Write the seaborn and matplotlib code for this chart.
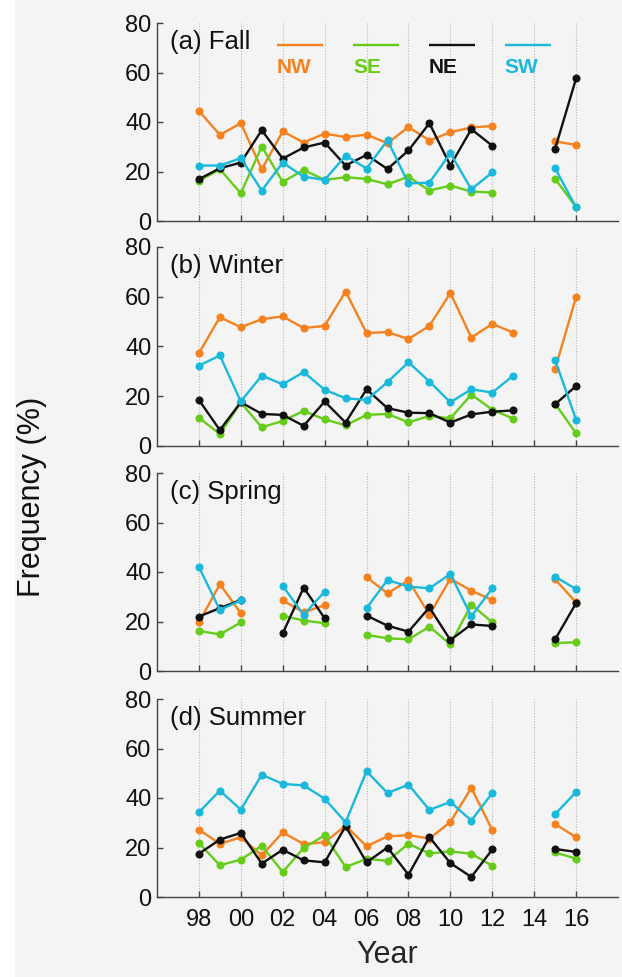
import numpy as np
import pandas as pd
import matplotlib
matplotlib.use("Agg")
import matplotlib.pyplot as plt
from matplotlib.patches import Rectangle
import seaborn as sns

nan = np.nan
years = list(range(1998, 2017))
directions = ["NW", "SE", "NE", "SW"]
seasons = ["(a) Fall", "(b) Winter", "(c) Spring", "(d) Summer"]
year_ticks = list(range(1998, 2017, 2))
year_tick_labels = ["98", "00", "02", "04", "06", "08", "10", "12", "14", "16"]
y_ticks = [0, 20, 40, 60, 80]

fall_nw = [44.5, 34.8, 39.5, 20.9, 36.2, 31.7, 35.3, 33.9, 34.9, 31.4, 38.0, 32.5, 35.9, 37.8, 38.4, nan, nan, 32.2, 30.7]
fall_se = [16.2, 20.9, 11.2, 30.1, 15.8, 20.6, 16.6, 17.7, 17.0, 14.8, 17.9, 12.3, 14.3, 11.9, 11.5, nan, nan, 17.0, 5.6]
fall_ne = [16.9, 21.3, 23.6, 36.7, 25.2, 29.7, 31.7, 22.4, 26.7, 21.0, 28.5, 39.5, 22.4, 37.1, 30.4, nan, nan, 29.2, 57.6]
fall_sw = [22.4, 22.4, 25.4, 12.3, 23.6, 17.9, 16.6, 26.4, 21.2, 32.6, 15.2, 15.5, 27.4, 12.8, 19.6, nan, nan, 21.3, 5.5]

winter_nw = [37.3, 51.8, 47.7, 51.0, 52.1, 47.4, 48.3, 62.1, 45.4, 45.8, 43.0, 48.3, 61.5, 43.6, 49.1, 45.6, nan, 31.0, 59.9]
winter_se = [11.4, 4.8, 17.5, 7.5, 10.1, 14.1, 10.7, 8.3, 12.5, 12.9, 9.5, 12.1, 11.1, 20.7, 14.6, 11.0, nan, 17.0, 5.1]
winter_ne = [18.5, 6.4, 17.6, 12.9, 12.5, 8.1, 17.9, 9.4, 22.8, 15.2, 13.4, 13.2, 9.4, 12.7, 13.8, 14.3, nan, 16.8, 24.1]
winter_sw = [32.3, 36.4, 17.9, 28.3, 24.8, 29.7, 22.6, 19.2, 18.5, 25.7, 33.7, 25.9, 17.6, 22.8, 21.5, 28.3, nan, 34.6, 10.5]

spring_nw = [19.6, 35.1, 23.3, nan, 28.5, 23.7, 26.6, nan, 37.9, 31.4, 36.6, 22.7, 37.3, 32.4, 28.7, nan, nan, 37.0, 27.7]
spring_se = [16.2, 14.8, 19.6, nan, 22.3, 20.4, 19.3, nan, 14.6, 13.2, 12.8, 17.9, 10.8, 26.8, 19.7, nan, nan, 11.3, 11.6]
spring_ne = [22.0, 25.4, 28.7, nan, 15.2, 33.7, 21.3, nan, 22.4, 18.3, 15.9, 25.7, 12.5, 18.8, 18.2, nan, nan, 12.8, 27.4]
spring_sw = [42.0, 24.7, 28.5, nan, 34.4, 22.7, 32.1, nan, 25.4, 36.8, 34.1, 33.4, 39.2, 22.1, 33.4, nan, nan, 38.1, 33.1]

summer_nw = [27.2, 21.5, 24.1, 16.8, 26.1, 21.4, 22.1, 28.8, 20.5, 24.5, 25.0, 23.6, 30.3, 44.1, 27.0, nan, nan, 29.5, 24.1]
summer_se = [21.8, 12.8, 15.1, 20.7, 10.1, 19.8, 24.9, 12.1, 15.4, 14.6, 21.5, 17.6, 18.4, 17.5, 12.6, nan, nan, 18.0, 15.5]
summer_ne = [17.5, 23.2, 25.9, 13.5, 19.1, 14.8, 14.0, 28.6, 14.0, 20.0, 9.0, 24.2, 13.7, 8.1, 19.2, nan, nan, 19.4, 18.2]
summer_sw = [34.2, 43.0, 35.3, 49.4, 45.7, 45.1, 39.7, 30.2, 50.8, 42.0, 45.4, 35.2, 38.4, 30.9, 42.0, nan, nan, 33.5, 42.4]

season_data = {
    "(a) Fall": [fall_nw, fall_se, fall_ne, fall_sw],
    "(b) Winter": [winter_nw, winter_se, winter_ne, winter_sw],
    "(c) Spring": [spring_nw, spring_se, spring_ne, spring_sw],
    "(d) Summer": [summer_nw, summer_se, summer_ne, summer_sw],
}

colors = {"NW": "#f5821f", "SE": "#66cc1a", "NE": "#111111", "SW": "#1ab9dc"}
BG = "#f4f4f4"

sns.set_style("ticks")
plt.rcParams["font.family"] = ["Liberation Sans", "DejaVu Sans"]
plt.rcParams["axes.linewidth"] = 1.0


def long_frame(series_list):
    rows = []
    for d, vals in zip(directions, series_list):
        seg = 0
        prev = None
        for y, v in zip(years, vals):
            if v is None or (isinstance(v, float) and np.isnan(v)):
                continue
            if prev is not None and y - prev > 1:
                seg += 1
            rows.append({"year": y, "freq": v, "dir": d, "seg": seg})
            prev = y
    return pd.DataFrame(rows)


fig = plt.figure(figsize=(6.22, 9.77), dpi=100, facecolor=BG)
W, H = 622.0, 977.0
fig.patches.append(Rectangle((0, 0), 15 / W, 1, transform=fig.transFigure,
                             facecolor="white", edgecolor="none", zorder=-10))

left_px, right_px = 157, 618
panel_px = [(23, 221), (247, 446), (473, 671), (699, 897)]

for i, season in enumerate(seasons):
    top, bot = panel_px[i]
    ax = fig.add_axes([left_px / W, 1 - bot / H, (right_px - left_px) / W, (bot - top) / H])
    ax.set_facecolor(BG)
    df = long_frame(season_data[season])
    sns.lineplot(data=df, x="year", y="freq", hue="dir", units="seg", estimator=None,
                 hue_order=directions, palette=colors, marker="o", markersize=5.8,
                 markeredgewidth=0, linewidth=1.7, legend=False, ax=ax, sort=True)
    ax.set_xlim(1996, 2018)
    ax.set_ylim(0, 80)
    ax.set_yticks(y_ticks)
    ax.set_yticklabels([str(v) for v in y_ticks], fontsize=17)
    ax.set_xticks(year_ticks)
    if i == len(seasons) - 1:
        ax.set_xticklabels(year_tick_labels, fontsize=17)
    else:
        ax.set_xticklabels([])
    ax.tick_params(direction="in", length=4, width=1, colors="#444444", labelcolor="#111111", pad=4)
    ax.tick_params(axis="x", pad=9)
    ax.xaxis.grid(True, linestyle=(0, (1, 1.5)), color="#b5b5b5", linewidth=0.8)
    ax.set_axisbelow(True)
    for s in ["top", "right"]:
        ax.spines[s].set_visible(False)
    for s in ["left", "bottom"]:
        ax.spines[s].set_color("#444444")
    ax.set_xlabel("")
    ax.set_ylabel("")
    ax.text(0.028, 0.905, season, transform=ax.transAxes, fontsize=18.5,
            ha="left", va="center", color="#111111")

    if i == 0:
        leg_x = [0.260, 0.425, 0.590, 0.754]
        for d, lx in zip(directions, leg_x):
            ax.plot([lx, lx + 0.100], [0.889, 0.889], transform=ax.transAxes,
                    color=colors[d], linewidth=1.7, solid_capstyle="butt")
            ax.text(lx, 0.773, d, transform=ax.transAxes, color=colors[d],
                    fontsize=15, fontweight="bold", ha="left", va="center")

    if i == len(seasons) - 1:
        ax.set_xlabel("Year", fontsize=22, labelpad=6)

fig.text(32 / W, 1 - 497 / H, "Frequency (%)", rotation=90, fontsize=22,
         ha="center", va="center", color="#111111")

fig.savefig("out.png", dpi=100, facecolor=BG)
